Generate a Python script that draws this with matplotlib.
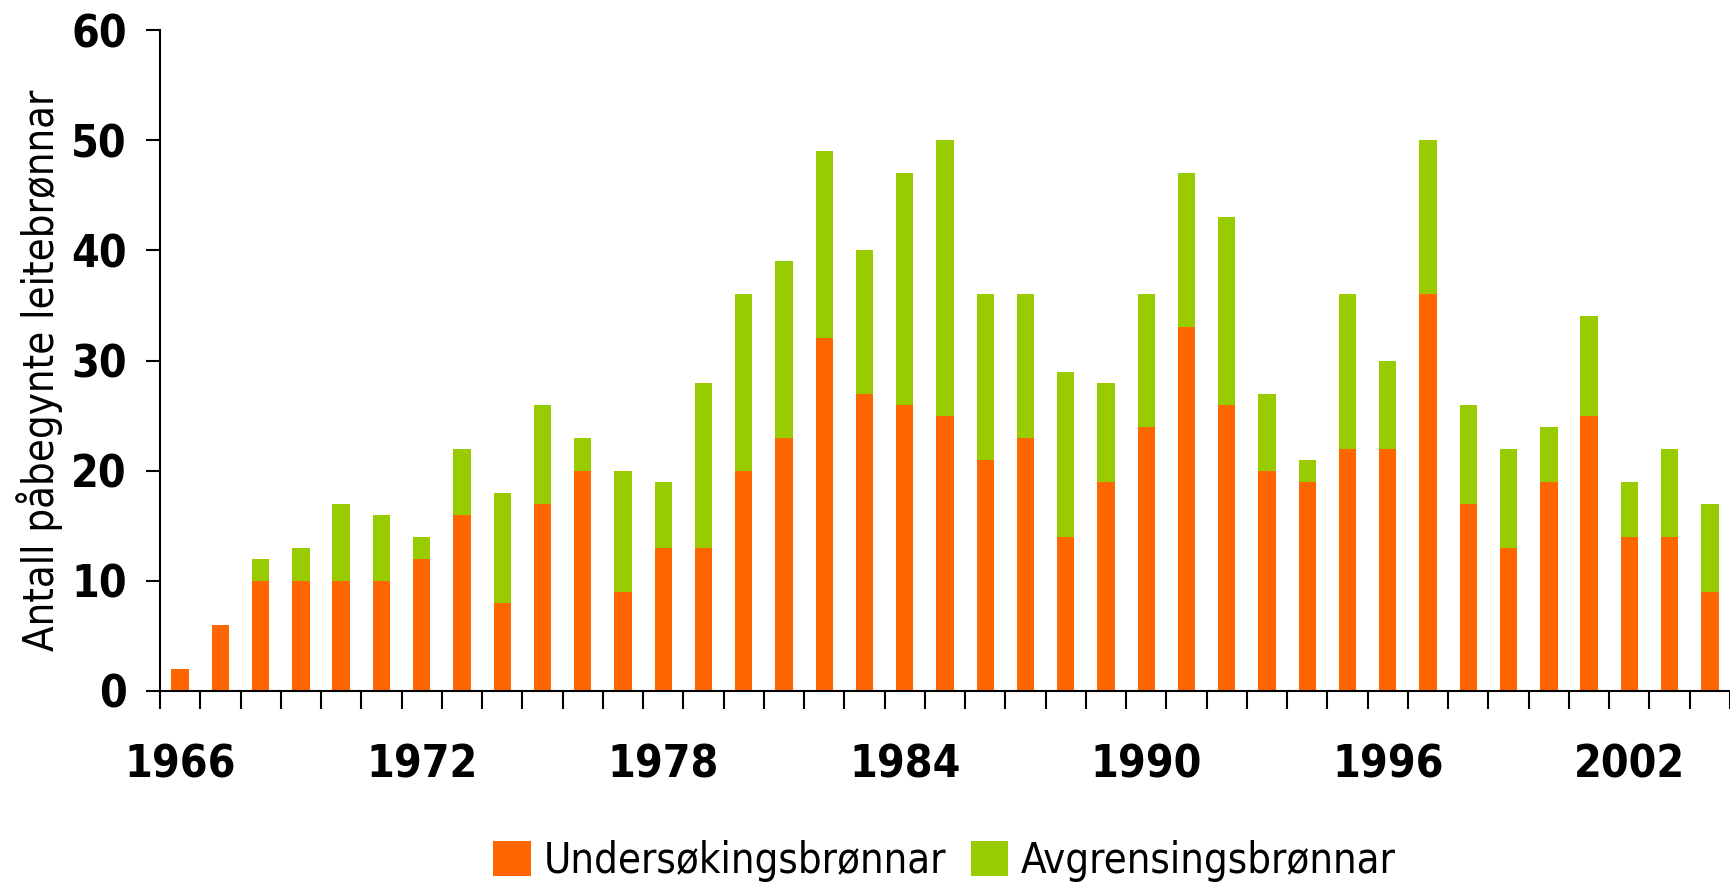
import numpy as np
import matplotlib.pyplot as plt
from matplotlib import font_manager

years = list(range(1966, 2005))
undersoking = [2, 6, 10, 10, 10, 10, 12, 16, 8, 17, 20, 9, 13, 13, 20, 23, 32, 27, 26, 25,
               21, 23, 14, 19, 24, 33, 26, 20, 19, 22, 22, 36, 17, 13, 19, 25, 14, 14, 9]
totalt = [2, 6, 12, 13, 17, 16, 14, 22, 18, 26, 23, 20, 19, 28, 36, 39, 49, 40, 47, 50,
          36, 36, 29, 28, 36, 47, 43, 27, 21, 36, 30, 50, 26, 22, 24, 34, 19, 22, 17]
avgrensing = [t - u for t, u in zip(totalt, undersoking)]
label_years = [1966, 1972, 1978, 1984, 1990, 1996, 2002]

# condensed face if one is installed, otherwise shrink the text a bit
condensed = any(f.name == 'DejaVu Sans' and f.stretch != 'normal'
                for f in font_manager.fontManager.ttflist)
plt.rcParams['font.family'] = ['DejaVu Sans']
if condensed:
    plt.rcParams['font.stretch'] = 'condensed'
    tick_fs, lab_fs, leg_fs = 32, 30, 30
else:
    tick_fs, lab_fs, leg_fs = 30, 27, 27

fig = plt.figure(figsize=(17.3, 8.9), dpi=100)
ax = fig.add_axes([160 / 1730, 1 - 691 / 890, 1 - 160 / 1730, (691 - 30) / 890])

x = np.arange(len(years))
ax.bar(x, undersoking, width=0.43, color='#FF6600', label='Undersøkingsbrønnar')
ax.bar(x, avgrensing, width=0.43, bottom=undersoking, color='#99CC00', label='Avgrensingsbrønnar')

ax.set_xlim(-0.5, len(years) - 0.5)
ax.set_ylim(0, 60)
ax.set_yticks(range(0, 61, 10))
ax.tick_params(axis='y', length=10, width=1.5, pad=14, labelsize=tick_fs)
for t in ax.get_yticklabels():
    t.set_fontweight('bold')

ax.set_xticks([years.index(y) for y in label_years])
ax.set_xticklabels([str(y) for y in label_years], fontsize=tick_fs, fontweight='bold')
ax.set_xticks(np.arange(-0.5, len(years), 1), minor=True)
ax.tick_params(axis='x', which='major', length=0, pad=38)
ax.tick_params(axis='x', which='minor', length=13, width=1.5)

for s in ['top', 'right']:
    ax.spines[s].set_visible(False)
ax.spines['left'].set_linewidth(1.5)
ax.spines['bottom'].set_linewidth(1.5)

ax.set_ylabel('Antall påbegynte leitebrønnar', fontsize=lab_fs)
ax.yaxis.set_label_coords(-0.062, 0.485)

fig.legend(loc='center', bbox_to_anchor=(0.546, 0.033), ncol=2, frameon=False,
           fontsize=leg_fs, handlelength=0.9, handleheight=0.9, handletextpad=0.3,
           columnspacing=0.6)

fig.savefig('out.png', dpi=100)
